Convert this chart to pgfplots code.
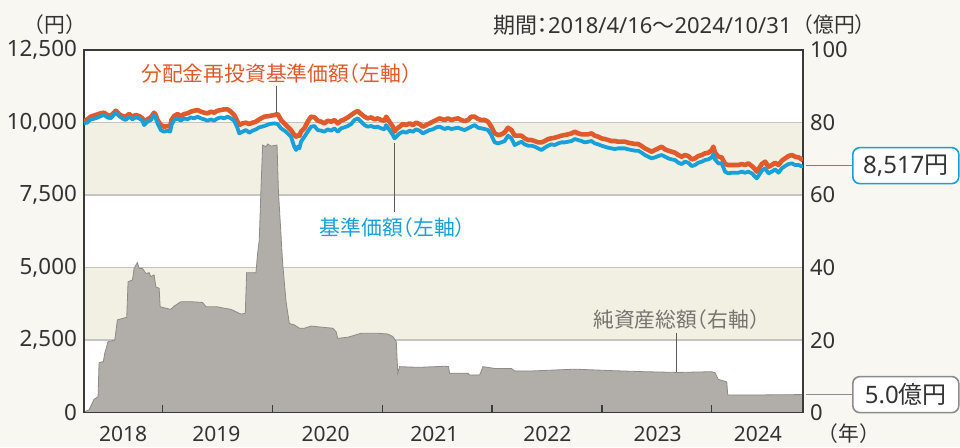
\documentclass[border=0pt]{standalone}
\usepackage{fontspec}
\setmainfont{Noto Sans}
\newfontfamily\cjk{Noto Sans CJK JP}[RawFeature=+halt]
\usepackage{pgfplots}
\usepackage{pgfplotstable}
\pgfplotsset{compat=1.18}
\definecolor{cream}{HTML}{F8F7F1}
\definecolor{band}{HTML}{F2EFE3}
\definecolor{gridc}{HTML}{C4C4C4}
\definecolor{orangeL}{HTML}{E05A2B}
\definecolor{blueL}{HTML}{18A0D8}
\definecolor{areaF}{HTML}{B1AEA9}
\definecolor{areaE}{HTML}{8E8A85}
\definecolor{grayT}{HTML}{77736E}
\definecolor{txt}{HTML}{333333}
\definecolor{frame}{HTML}{3A3A3A}
\definecolor{leader}{HTML}{5A5A5A}
\definecolor{boxgray}{HTML}{8C8C8C}

\pgfplotstableread{
x y
2018.286 0.2
2018.332 0.8
2018.377 3.7
2018.414 4.4
2018.423 13.8
2018.462 14.1
2018.475 16.4
2018.505 19.6
2018.566 20.0
2018.590 25.6
2018.675 26.3
2018.687 36.1
2018.727 36.6
2018.742 39.8
2018.772 41.4
2018.788 39.8
2018.818 39.8
2018.849 38.4
2018.879 38.6
2018.894 37.5
2018.924 38.0
2018.940 34.7
2018.970 34.3
2018.979 29.2
2019.031 28.8
2019.077 28.5
2019.107 29.4
2019.168 30.6
2019.259 30.6
2019.365 30.4
2019.396 29.2
2019.501 29.2
2019.562 28.8
2019.624 28.5
2019.684 27.6
2019.715 27.2
2019.754 27.4
2019.766 38.6
2019.851 38.6
2019.866 43.9
2019.881 47.6
2019.897 61.9
2019.912 73.8
2019.943 73.3
2019.957 74.1
2019.988 73.5
2020.043 73.8
2020.055 61.4
2020.094 41.2
2020.125 30.6
2020.155 24.6
2020.201 24.2
2020.246 23.3
2020.292 23.3
2020.353 23.9
2020.474 23.5
2020.550 23.3
2020.581 22.3
2020.595 20.5
2020.686 20.8
2020.809 21.9
2020.960 21.9
2021.051 21.7
2021.097 21.0
2021.128 19.6
2021.142 10.9
2021.158 12.7
2021.325 12.5
2021.568 12.8
2021.604 12.7
2021.613 10.9
2021.780 10.9
2021.796 10.4
2021.887 10.4
2021.917 12.7
2022.024 12.2
2022.176 12.2
2022.206 11.5
2022.358 11.5
2022.753 12.0
2023.088 11.6
2023.391 11.3
2023.695 11.1
2023.999 11.3
2024.029 11.0
2024.059 9.2
2024.136 8.5
2024.145 4.9
2024.455 4.9
2024.830 5.0
}\area

\pgfplotstableread{
x y
2018.286 10029
2018.316 10110
2018.347 10202
2018.392 10259
2018.438 10317
2018.468 10339
2018.499 10259
2018.529 10225
2018.575 10408
2018.605 10294
2018.635 10225
2018.666 10202
2018.696 10294
2018.727 10202
2018.757 10259
2018.787 10225
2018.818 10144
2018.833 10029
2018.863 10110
2018.894 10179
2018.924 10339
2018.939 10259
2018.955 10087
2018.985 9914
2019.015 9857
2019.046 9880
2019.070 9857
2019.082 10087
2019.106 10225
2019.137 10294
2019.167 10225
2019.198 10294
2019.228 10317
2019.258 10374
2019.289 10408
2019.319 10431
2019.350 10374
2019.380 10339
2019.410 10317
2019.441 10374
2019.471 10339
2019.501 10408
2019.532 10431
2019.562 10454
2019.593 10454
2019.623 10374
2019.653 10259
2019.684 10029
2019.699 9914
2019.729 9972
2019.760 9995
2019.790 9949
2019.820 9995
2019.851 10029
2019.881 10110
2019.927 10202
2019.973 10225
2020.018 10259
2020.049 10294
2020.079 10087
2020.124 9914
2020.170 9742
2020.200 9570
2020.216 9512
2020.231 9570
2020.246 9535
2020.261 9685
2020.292 9800
2020.322 10029
2020.352 10202
2020.383 10179
2020.413 10064
2020.444 10029
2020.474 9972
2020.504 10064
2020.535 10029
2020.565 10087
2020.595 9972
2020.626 10064
2020.656 10110
2020.687 10179
2020.717 10259
2020.747 10339
2020.778 10397
2020.808 10294
2020.839 10202
2020.869 10144
2020.899 10179
2020.930 10110
2020.960 10144
2020.991 10087
2021.021 10064
2021.036 10202
2021.066 10029
2021.097 9857
2021.112 9685
2021.127 9765
2021.158 9857
2021.188 9949
2021.218 9914
2021.249 9972
2021.279 9914
2021.309 9995
2021.340 9949
2021.370 9857
2021.401 9914
2021.431 9972
2021.461 10029
2021.492 10087
2021.522 10144
2021.568 10087
2021.598 10144
2021.629 10087
2021.659 10121
2021.690 10144
2021.720 10087
2021.750 10052
2021.781 10087
2021.811 10202
2021.842 10202
2021.872 10121
2021.902 10087
2021.933 10087
2021.963 10029
2021.993 9857
2022.024 9627
2022.054 9570
2022.085 9593
2022.115 9662
2022.145 9822
2022.176 9742
2022.206 9547
2022.236 9547
2022.267 9547
2022.297 9455
2022.328 9397
2022.358 9397
2022.388 9363
2022.419 9317
2022.449 9317
2022.480 9363
2022.510 9432
2022.540 9455
2022.571 9478
2022.601 9512
2022.631 9547
2022.662 9570
2022.692 9593
2022.723 9627
2022.753 9685
2022.783 9627
2022.814 9593
2022.844 9593
2022.874 9593
2022.905 9627
2022.935 9547
2022.966 9512
2022.996 9455
2023.026 9432
2023.057 9397
2023.087 9363
2023.117 9363
2023.148 9340
2023.209 9340
2023.239 9305
2023.270 9283
2023.300 9260
2023.331 9260
2023.361 9191
2023.391 9110
2023.422 9053
2023.452 8995
2023.483 9053
2023.513 9110
2023.543 9168
2023.574 9076
2023.604 9030
2023.634 8995
2023.665 8961
2023.695 8880
2023.726 8823
2023.756 8880
2023.786 8846
2023.817 8731
2023.847 8766
2023.877 8846
2023.908 8880
2023.938 8938
2023.969 8961
2023.999 9053
2024.014 9168
2024.029 8961
2024.060 8823
2024.090 8800
2024.121 8570
2024.151 8536
2024.181 8536
2024.212 8536
2024.242 8536
2024.273 8570
2024.303 8536
2024.333 8593
2024.364 8501
2024.394 8387
2024.409 8306
2024.424 8387
2024.455 8570
2024.485 8651
2024.516 8478
2024.546 8536
2024.576 8616
2024.607 8536
2024.637 8685
2024.667 8766
2024.698 8846
2024.728 8880
2024.758 8823
2024.789 8800
2024.819 8731
2024.830 8700
}\orangedata

\pgfplotstableread{
x y
2018.286 9980
2018.316 9995
2018.347 10110
2018.392 10144
2018.438 10225
2018.468 10259
2018.499 10179
2018.529 10144
2018.575 10339
2018.605 10225
2018.635 10144
2018.666 10087
2018.696 10202
2018.727 10110
2018.757 10179
2018.787 10144
2018.818 10064
2018.833 9914
2018.863 10029
2018.894 10087
2018.924 10259
2018.939 10144
2018.955 9972
2018.985 9742
2019.015 9685
2019.046 9719
2019.070 9685
2019.082 9914
2019.106 10087
2019.137 10144
2019.167 10064
2019.198 10144
2019.228 10110
2019.258 10179
2019.289 10144
2019.319 10202
2019.350 10144
2019.380 10110
2019.410 10064
2019.441 10110
2019.471 10064
2019.501 10144
2019.532 10179
2019.562 10144
2019.593 10202
2019.623 10144
2019.653 10064
2019.684 9800
2019.699 9627
2019.729 9685
2019.760 9742
2019.790 9650
2019.820 9719
2019.851 9765
2019.881 9834
2019.927 9880
2019.973 9949
2020.018 9972
2020.049 9949
2020.079 9800
2020.124 9685
2020.170 9512
2020.200 9168
2020.216 9053
2020.231 9168
2020.246 9110
2020.261 9340
2020.292 9512
2020.322 9685
2020.352 9857
2020.383 9880
2020.413 9742
2020.444 9719
2020.474 9685
2020.504 9765
2020.535 9719
2020.565 9800
2020.595 9685
2020.626 9800
2020.656 9834
2020.687 9880
2020.717 9949
2020.747 10087
2020.778 10144
2020.808 10029
2020.839 9914
2020.869 9857
2020.899 9880
2020.930 9834
2020.960 9857
2020.991 9800
2021.021 9765
2021.036 9914
2021.066 9742
2021.097 9570
2021.112 9455
2021.127 9512
2021.158 9627
2021.188 9685
2021.218 9650
2021.249 9719
2021.279 9685
2021.309 9765
2021.340 9719
2021.370 9627
2021.401 9685
2021.431 9742
2021.461 9765
2021.492 9834
2021.522 9860
2021.568 9777
2021.598 9822
2021.629 9777
2021.659 9800
2021.690 9822
2021.720 9777
2021.750 9742
2021.781 9800
2021.811 9857
2021.842 9914
2021.872 9822
2021.902 9800
2021.933 9777
2021.963 9742
2021.993 9570
2022.024 9317
2022.054 9283
2022.085 9317
2022.115 9363
2022.145 9547
2022.176 9455
2022.206 9225
2022.236 9283
2022.267 9340
2022.297 9248
2022.328 9202
2022.358 9202
2022.388 9168
2022.419 9110
2022.449 9053
2022.480 9133
2022.510 9202
2022.540 9248
2022.571 9225
2022.601 9283
2022.631 9317
2022.662 9317
2022.692 9340
2022.723 9363
2022.753 9432
2022.783 9398
2022.814 9363
2022.844 9317
2022.874 9340
2022.905 9363
2022.935 9283
2022.966 9248
2022.996 9202
2023.026 9168
2023.057 9133
2023.087 9110
2023.117 9087
2023.148 9110
2023.209 9110
2023.239 9076
2023.270 9053
2023.300 9030
2023.331 9030
2023.361 8961
2023.391 8880
2023.422 8823
2023.452 8766
2023.483 8800
2023.513 8846
2023.543 8880
2023.574 8823
2023.604 8766
2023.634 8731
2023.665 8708
2023.695 8616
2023.726 8570
2023.756 8651
2023.786 8616
2023.817 8501
2023.847 8536
2023.877 8616
2023.908 8651
2023.938 8708
2023.969 8731
2023.999 8800
2024.014 8915
2024.029 8731
2024.060 8593
2024.090 8593
2024.121 8306
2024.151 8249
2024.181 8272
2024.212 8272
2024.242 8272
2024.273 8306
2024.303 8272
2024.333 8306
2024.364 8249
2024.394 8134
2024.409 8076
2024.424 8157
2024.455 8341
2024.485 8421
2024.516 8249
2024.546 8306
2024.576 8387
2024.607 8272
2024.637 8421
2024.667 8501
2024.698 8570
2024.728 8593
2024.758 8536
2024.789 8536
2024.819 8490
2024.830 8517
}\bluedata

\newcommand\lbl{\fontsize{10.4}{12}\selectfont}

\begin{document}
\begin{tikzpicture}
\fill[cream] (0,0) rectangle (480pt,223.5pt);
\path[use as bounding box] (0,0) rectangle (480pt,223.5pt);

% right axis: net assets (oku yen)
\begin{axis}[
  at={(42pt,17.15pt)}, anchor=south west, scale only axis,
  width=359.5pt, height=181.35pt,
  xmin=2018.286, xmax=2024.83, ymin=0, ymax=100,
  hide x axis, axis y line*=right,
  ytick={0,20,40,60,80,100}, ytick style={draw=none},
  yticklabel style={font=\fontsize{11}{13}\selectfont, text=txt},
  axis line style={draw=frame, line width=0.6pt},
  /pgf/number format/assume math mode=true,
]
\fill[white] (axis cs:2018.286,0) rectangle (axis cs:2024.83,100);
\fill[band] (axis cs:2018.286,60) rectangle (axis cs:2024.83,80);
\fill[band] (axis cs:2018.286,20) rectangle (axis cs:2024.83,40);
\draw[gridc, line width=0.7pt] (axis cs:2018.286,20) -- (axis cs:2024.83,20);
\draw[gridc, line width=0.7pt] (axis cs:2018.286,40) -- (axis cs:2024.83,40);
\draw[gridc, line width=0.7pt] (axis cs:2018.286,60) -- (axis cs:2024.83,60);
\draw[gridc, line width=0.7pt] (axis cs:2018.286,80) -- (axis cs:2024.83,80);
\addplot[fill=areaF, draw=areaE, line width=0.4pt] table[x=x,y=y] {\area} \closedcycle;
\end{axis}

% left axis: NAV (yen)
\begin{axis}[
  at={(42pt,17.15pt)}, anchor=south west, scale only axis,
  width=359.5pt, height=181.35pt,
  xmin=2018.286, xmax=2024.83, ymin=0, ymax=12500,
  ytick={0,2500,5000,7500,10000,12500}, scaled y ticks=false,
  ytick pos=left, ytick style={draw=none},
  xtick={2019,2020,2021,2022,2023,2024}, xticklabels={,,,,,},
  xtick pos=bottom, tick align=inside,
  xtick style={draw=frame, line width=0.6pt}, major tick length=4pt,
  extra x ticks={2018.642,2019.49,2020.485,2021.475,2022.504,2023.507,2024.42},
  extra x tick labels={2018,2019,2020,2021,2022,2023,2024},
  extra x tick style={major tick length=0pt},
  xticklabel style={anchor=base, yshift=-14.3pt, font=\fontsize{10.5}{12}\selectfont, text=txt},
  yticklabel style={font=\fontsize{11.2}{13}\selectfont, text=txt},
  axis line style={draw=frame, line width=0.6pt},
  /pgf/number format/1000 sep={,},
  /pgf/number format/assume math mode=true,
]
\addplot[orangeL, line width=2.3pt, line join=round] table[x=x,y=y] {\orangedata};
\addplot[blueL, line width=1.9pt, line join=round] table[x=x,y=y] {\bluedata};
\end{axis}

\begin{scope}[x=0.5pt, y=-0.5pt, shift={(0,223.5pt)}]
  \node[text=orangeL, font=\lbl] at (276.5,73.3) {\cjk 分配金再投資基準価額（左軸）};
  \draw[leader, line width=0.5pt] (276.7,86) -- (276.7,113);
  \node[text=blueL, font=\lbl] at (392.5,228) {\cjk 基準価額（左軸）};
  \draw[leader, line width=0.5pt] (394.3,143) -- (394.3,212);
  \node[text=grayT, font=\lbl] at (676.5,320) {\cjk 純資産総額（右軸）};
  \draw[leader, line width=0.5pt] (676,333) -- (676,372);
  \node[text=txt, font=\lbl] at (55,25) {\cjk （円）};
  \node[text=txt, font=\fontsize{11}{13}\selectfont, anchor=west, inner sep=0pt] at (492.7,25) {{\cjk 期間：}2018/4/16{\cjk ～}2024/10/31};
  \node[text=txt, font=\lbl] at (834,25) {\cjk （億円）};
  \node[text=txt, font=\lbl] at (849,434) {\cjk （年）};
  \draw[blueL, line width=0.8pt] (806,165.6) -- (852,165.6);
  \node[draw=blueL, line width=0.8pt, rounded corners=3.5pt, fill=white, text=txt,
        minimum width=53pt, minimum height=18pt, anchor=west, inner sep=2pt,
        font=\fontsize{12}{14}\selectfont] at (852,165.6) {8,517{\cjk 円}};
  \draw[boxgray, line width=0.8pt] (806,394.6) -- (852,394.6);
  \node[draw=boxgray, line width=0.8pt, rounded corners=3.5pt, fill=white, text=txt,
        minimum width=53pt, minimum height=18pt, anchor=west, inner sep=2pt,
        font=\fontsize{12}{14}\selectfont] at (852,394.6) {5.0{\cjk 億円}};
\end{scope}
\end{tikzpicture}
\end{document}
